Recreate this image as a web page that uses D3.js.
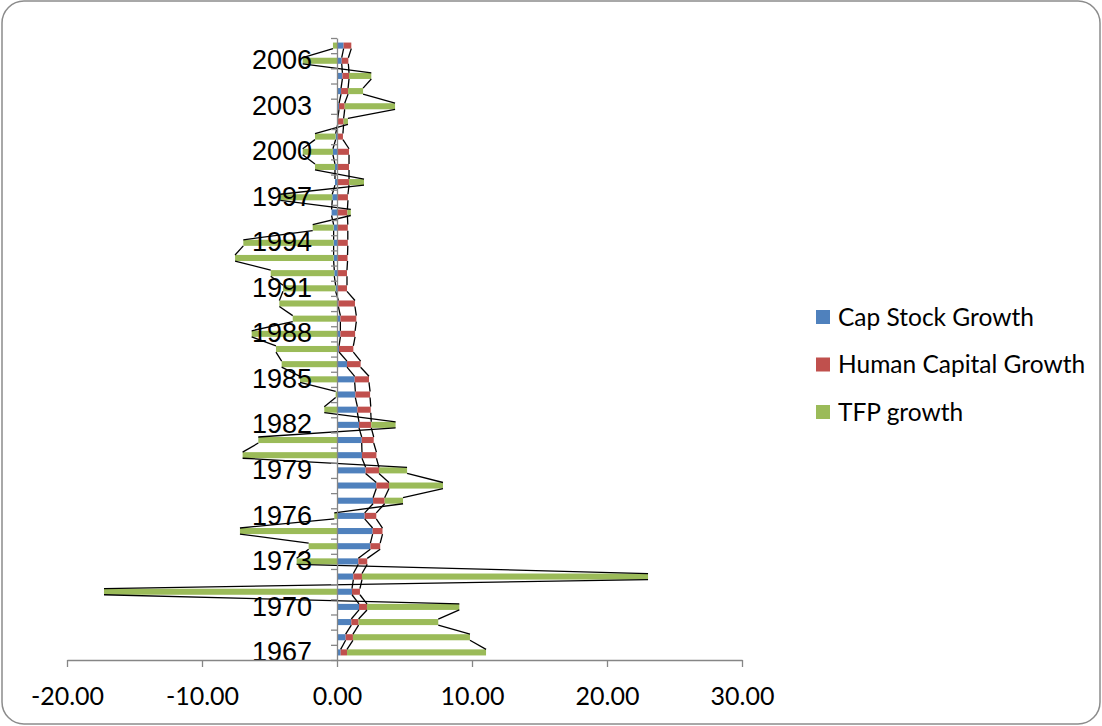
<!DOCTYPE html>
<html><head><meta charset="utf-8">
<script src="https://cdn.jsdelivr.net/npm/d3@7"></script>
<style>body{margin:0;background:#fff}</style>
</head><body>
<svg id="chart" width="1102" height="726"></svg>
<script>
const years = [1967,1968,1969,1970,1971,1972,1973,1974,1975,1976,1977,1978,1979,1980,1981,1982,1983,1984,1985,1986,1987,1988,1989,1990,1991,1992,1993,1994,1995,1996,1997,1998,1999,2000,2001,2002,2003,2004,2005,2006,2007];
const capStock = [0.27,0.64,1.06,1.63,1.11,1.21,1.58,2.47,2.64,2.05,2.67,2.91,2.12,1.85,1.83,1.63,1.51,1.36,1.31,0.74,0.15,0.25,0.25,0.1,-0.1,-0.2,-0.25,-0.25,-0.25,-0.4,-0.35,-0.15,-0.15,-0.3,-0.1,0.05,0.15,0.3,0.4,0.35,0.49];
const humanCapital = [0.47,0.54,0.54,0.59,0.59,0.64,0.66,0.73,0.73,0.86,0.86,0.94,0.99,1.07,0.89,0.91,0.99,1.09,1.06,1.01,1.06,1.09,1.18,1.23,0.74,0.74,0.78,0.8,0.8,0.77,0.81,0.89,0.89,0.89,0.44,0.44,0.42,0.52,0.49,0.49,0.57];
const tfpGrowth = [10.3,8.67,5.9,6.84,-17.26,21.19,-2.99,-2.1,-7.19,-0.2,1.36,4.0,2.08,-6.99,-5.83,1.8,-0.94,-0.1,-2.74,-4.1,-4.52,-6.32,-3.28,-4.27,-3.9,-4.71,-7.3,-6.69,-1.55,0.25,-3.85,1.11,-1.48,-2.24,-1.53,0.32,3.73,1.11,1.65,-2.54,-0.3];
const seriesNames = ["Cap Stock Growth","Human Capital Growth","TFP growth"];
const seriesColors = ["#4F81BD","#C0504D","#9BBB59"];
const xTickValues = [-20,-10,0,10,20,30];
const labelYears = years.filter((d,i)=>i%3===0);

const keys = ["cap","hum","tfp"];
const table = years.map((yr,i)=>({year:yr, cap:capStock[i], hum:humanCapital[i], tfp:tfpGrowth[i]}));
const stacked = d3.stack().keys(keys).offset(d3.stackOffsetDiverging)(table);

const svg = d3.select("#chart");
svg.append("rect").attr("x",2).attr("y",1).attr("width",1098).attr("height",723)
  .attr("rx",22).attr("fill","#fff").attr("stroke","#8c8c8c").attr("stroke-width",1.5);

const x = d3.scaleLinear().domain([-20,30]).range([67,742]);
const y = d3.scaleBand().domain(years).range([660,38]).paddingInner(0.6).paddingOuter(0.3);
const yb = d3.scaleLinear().domain([0,years.length]).range([660,38]);
const bw = y.bandwidth();

// bars
stacked.forEach((s,si)=>{
  svg.append("g").selectAll("rect").data(s).join("rect")
    .attr("x", d=>x(Math.min(d[0],d[1])))
    .attr("width", d=>Math.abs(x(d[1])-x(d[0])))
    .attr("y", d=>y(d.data.year))
    .attr("height", bw)
    .attr("fill", seriesColors[si]);
});

// series lines
stacked.forEach((s,si)=>{
  const key = keys[si];
  const outer = d => d.data[key] >= 0 ? d[1] : d[0];
  const segs = d3.pairs(s);
  svg.append("g").selectAll("line").data(segs).join("line")
    .attr("x1", p=>x(outer(p[0]))).attr("y1", p=>y(p[0].data.year))
    .attr("x2", p=>x(outer(p[1]))).attr("y2", p=>y(p[1].data.year)+bw)
    .attr("stroke","#000").attr("stroke-width",1.3);
});

// vertical axis with boundary ticks
const yTicks = svg.append("g").attr("transform",`translate(${x(0)},0)`)
  .call(d3.axisLeft(yb).tickValues(d3.range(years.length+1)).tickSize(6).tickSizeOuter(0).tickFormat(""));
yTicks.selectAll("path,line").attr("stroke","#868686").attr("stroke-width",1.3);

// year labels
const yLab = svg.append("g").attr("transform",`translate(${x(0)},0)`)
  .call(d3.axisLeft(y).tickValues(labelYears).tickSize(0).tickPadding(25));
yLab.select(".domain").remove();
yLab.selectAll("text").attr("font-family","'Liberation Sans', Arial, sans-serif").attr("font-size",27).attr("fill","#000");

// x axis
const fmt = d => d3.format(".2f")(d).replace("\u2212","-");
const xAx = svg.append("g").attr("transform","translate(0,660)")
  .call(d3.axisBottom(x).tickValues(xTickValues).tickFormat(fmt).tickSize(7).tickSizeOuter(0).tickPadding(20));
xAx.selectAll("path,line").attr("stroke","#868686").attr("stroke-width",1.3);
xAx.selectAll("text").attr("font-family","Lato, 'Open Sans', sans-serif").attr("font-size",25).attr("fill","#000");

// legend
const lg = svg.append("g").selectAll("g").data(seriesNames).join("g")
  .attr("transform",(d,i)=>`translate(816,${317+i*47.5})`);
lg.append("rect").attr("x",0).attr("y",-7).attr("width",14).attr("height",14).attr("fill",(d,i)=>seriesColors[i]);
lg.append("text").attr("x",22).attr("y",0).attr("dy","0.35em").text(d=>d)
  .attr("font-family","Lato, 'Open Sans', sans-serif").attr("font-size",24.5).attr("fill","#000");
</script>
</body></html>
